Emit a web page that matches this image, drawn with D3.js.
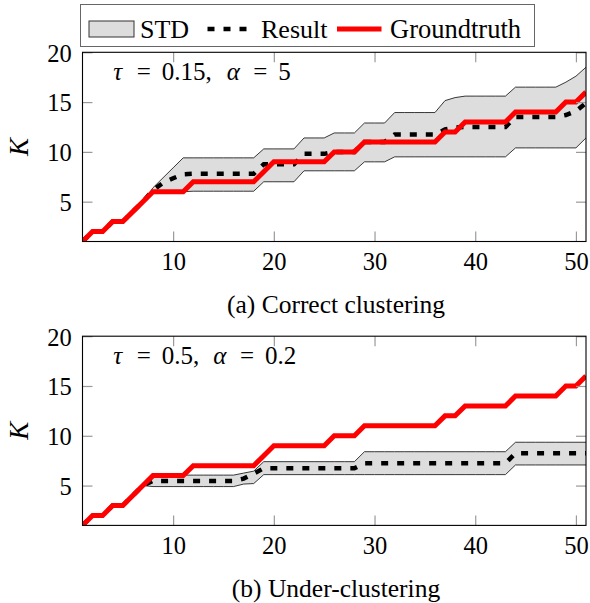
<!DOCTYPE html>
<html><head><meta charset="utf-8">
<script src="https://cdn.jsdelivr.net/npm/d3@7"></script>
<style>
body{margin:0;background:#fff}
svg{display:block}
svg text{font-family:"Liberation Serif","Times New Roman",Times,"DejaVu Serif",serif;fill:#000}
</style>
</head><body>
<svg id="chart" width="590" height="603"></svg>
<script>
const xs = [1,2,3,4,5,6,7,8,9,10,11,12,13,14,15,16,17,18,19,20,21,22,23,24,25,26,27,28,29,30,31,32,33,34,35,36,37,38,39,40,41,42,43,44,45,46,47,48,49,50,51];
const groundtruth = [1,2,2,3,3,4,5,6,6,6,6, 7,7,7,7,7,7,7, 8, 9,9,9,9,9,9, 10,10,10, 11,11,11,11,11,11,11,11, 12,12, 13,13,13,13,13, 14,14,14,14,14, 15,15, 16];

// (a) correct clustering
const resultA = [1,2,2,3,3,4,5, 6.15,6.9,7.35,7.75, 7.8,7.8,7.8,7.8,7.8,7.8,7.8, 8.75,8.75,8.75,8.75, 9.8,9.8,9.8, 10,10,10, 11,11,11, 11.75,11.75,11.75,11.75,11.75, 12.25,12.45, 12.5,12.5,12.5,12.5,12.5, 13.5,13.5,13.5,13.5,13.5, 13.7,14.1,14.9];
const upperA  = [1,2,2,3,3,4,5, 6.4,7.4,8.4, 9.4,9.4,9.4,9.4,9.4,9.4,9.4,9.4, 10.3,10.3,10.3,10.3, 11.4,11.4,11.4, 11.9,11.9,11.9, 12.9,12.9,12.9, 13.95,13.95,13.95,13.95,13.95, 15.15,15.45, 15.6,15.6,15.6,15.6,15.6, 16.5,16.5,16.5,16.5,16.5, 17.0,17.6,18.5];
const lowerA  = [1,2,2,3,3,4,5, 5.95,6.0,6.0,6.0, 6.05,6.05,6.05,6.05,6.05,6.05,6.05, 7,7,7,7, 8.1,8.1,8.1,8.1,8.1,8.1, 9,9,9, 9.5,9.5,9.5,9.5,9.5,9.5,9.5,9.5,9.5,9.5,9.5,9.5, 10.4,10.4,10.4,10.4,10.4,10.4,10.4, 11.4];

// (b) under-clustering
const resultB = [1,2,2,3,3,4,5, 5.47,5.47,5.47,5.47,5.47,5.47,5.47,5.47,5.47, 5.7,6.2, 6.74,6.74,6.74,6.74,6.74,6.74,6.74,6.74,6.74,6.74, 7.24,7.24,7.24,7.24,7.24,7.24,7.24,7.24,7.24,7.24,7.24,7.24,7.24,7.24,7.24, 8.24,8.24,8.24,8.24,8.24,8.24,8.24,8.24];
const upperB  = [1,2,2,3,3,4,5, 6.05,6.05,6.05,6.05,6.05,6.05,6.05,6.05,6.05, 6.25,6.45, 7.4,7.4,7.4,7.4,7.4,7.4,7.4,7.4,7.4,7.4, 8.4,8.4,8.4,8.4,8.4,8.4,8.4,8.4,8.4,8.4,8.4,8.4,8.4,8.4,8.4, 9.35,9.35,9.35,9.35,9.35,9.35,9.35,9.35];
const lowerB  = [1,2,2,3,3,4,5,
  4.9,4.9,4.9,4.9,4.9, 4.9,4.9,4.9,4.9,
  5.15,5.2,
  6.1,6.1,6.1,6.1,6.1, 6.1,6.1,6.1,6.1,6.1, 6.1,6.1,6.1,6.1,6.1, 6.1,6.1,6.1,6.1,6.1, 6.1,6.1,6.1,6.1,6.1,
  7.07,7.07,7.07,7.07, 7.07,7.07,7.07,7.07];

const xTicks = [10,20,30,40,50];
const yTicks = [5,10,15,20];
const legendLabels = ["STD","Result","Groundtruth"];
const panelCaptions = ["(a) Correct clustering","(b) Under-clustering"];
const panelParams = [["0.15","5"],["0.5","0.2"]];

const FONT = "'Liberation Serif','Times New Roman',Times,'DejaVu Serif',serif";
const svg = d3.select("#chart");
const L = 82.5, R = 586, H = 189.2;
const panelTops = [52.3, 336.2];
// horizontal placement of the pieces of "τ = a, α = b" (layout only)
const annoX = [[113.3,136.7,161.7,226.7,253.3,278.3],[113.3,136.7,161.7,213.3,240,265]];
const x = d3.scaleLinear().domain([1,51]).range([L,R]);

const panels = [
  {res: resultA, up: upperA, lo: lowerA},
  {res: resultB, up: upperB, lo: lowerB}
];

panels.forEach((p, i) => {
  const top = panelTops[i], bot = top + H;
  const y = d3.scaleLinear().domain([1,20]).range([bot, top]);
  const g = svg.append("g");
  const cid = "clip" + i;
  svg.append("defs").append("clipPath").attr("id", cid)
    .append("rect").attr("x", L).attr("y", top).attr("width", R-L).attr("height", H);
  const dg = g.append("g").attr("clip-path", `url(#${cid})`);

  const band = xs.map((d, k) => ({x: d, lo: p.lo[k], up: p.up[k]}));
  dg.append("path").datum(band)
    .attr("d", d3.area().x(d => x(d.x)).y0(d => y(d.lo)).y1(d => y(d.up)))
    .attr("fill", "#dddddd").attr("stroke", "none");
  [ "up", "lo" ].forEach(key => {
    dg.append("path").datum(band)
      .attr("d", d3.line().x(d => x(d.x)).y(d => y(d[key])))
      .attr("fill", "none").attr("stroke", "#222").attr("stroke-width", 0.9);
  });
  dg.append("path").datum(xs.map((d,k)=>[d, p.res[k]]))
    .attr("d", d3.line().x(d => x(d[0])).y(d => y(d[1])))
    .attr("fill", "none").attr("stroke", "#000").attr("stroke-width", 4.5)
    .attr("stroke-dasharray", "7,9");
  dg.append("path").datum(xs.map((d,k)=>[d, groundtruth[k]]))
    .attr("d", d3.line().x(d => x(d[0])).y(d => y(d[1])))
    .attr("fill", "none").attr("stroke", "#ff0000").attr("stroke-width", 5);

  // axes
  const ax = g.append("g").attr("transform", `translate(0,${bot})`)
    .call(d3.axisBottom(x).tickValues(xTicks).tickSize(-10).tickPadding(0));
  ax.selectAll("text").attr("y", 28.5).attr("dy", 0);
  g.append("g").attr("transform", `translate(0,${top})`)
    .call(d3.axisTop(x).tickValues(xTicks).tickSize(-10).tickFormat(""));
  const ay = g.append("g").attr("transform", `translate(${L},0)`)
    .call(d3.axisLeft(y).tickValues(yTicks).tickSize(-10).tickPadding(10.8));
  ay.selectAll("text").attr("dy", "0.36em");
  g.append("g").attr("transform", `translate(${R},0)`)
    .call(d3.axisRight(y).tickValues(yTicks).tickSize(-10).tickFormat(""));
  g.selectAll(".domain").remove();
  g.selectAll(".tick line").attr("stroke", "#9a9a9a").attr("stroke-width", 1.2);
  g.selectAll(".tick text").attr("fill", "#000").style("font-family", FONT).style("font-size", "24.5px");

  g.append("rect").attr("x", L).attr("y", top).attr("width", R-L).attr("height", H)
    .attr("fill", "none").attr("stroke", "#000").attr("stroke-width", 1.1);

  // y label
  g.append("text").attr("transform", `translate(28,${(top+bot)/2}) rotate(-90)`)
    .attr("text-anchor", "middle").style("font-family", FONT)
    .style("font-style", "italic").style("font-size", "27px").text("K");

  // annotation
  const pieces = [["τ",true],["=",false],[panelParams[i][0] + ",",false],["α",true],["=",false],[panelParams[i][1],false]];
  const t = g.append("text").attr("y", top + 27.8)
    .style("font-family", FONT).style("font-size", "25px");
  pieces.forEach((pc, k) => {
    t.append("tspan").attr("x", annoX[i][k])
      .style("font-style", pc[1] ? "italic" : "normal").text(pc[0]);
  });

  // caption
  g.append("text").attr("x", 336).attr("y", bot + 71.5).attr("text-anchor", "middle")
    .style("font-family", FONT).style("font-size", "25.5px").text(panelCaptions[i]);
});

// legend
const lg = svg.append("g").style("font-family", FONT);
lg.append("rect").attr("x", 80.5).attr("y", 4.5).attr("width", 454).attr("height", 42)
  .attr("fill", "#fff").attr("stroke", "#666").attr("stroke-width", 1);
lg.append("rect").attr("x", 89).attr("y", 21).attr("width", 45).attr("height", 16)
  .attr("fill", "#dddddd").attr("stroke", "#333").attr("stroke-width", 1);
lg.append("text").attr("x", 140).attr("y", 37.5).style("font-size", "26px").text(legendLabels[0]);
lg.append("line").attr("x1", 207.5).attr("x2", 246.5).attr("y1", 29).attr("y2", 29)
  .attr("stroke", "#000").attr("stroke-width", 4.5).attr("stroke-dasharray", "7,9");
lg.append("text").attr("x", 261).attr("y", 37.5).style("font-size", "26px").text(legendLabels[1]);
lg.append("line").attr("x1", 337).attr("x2", 381.5).attr("y1", 29).attr("y2", 29)
  .attr("stroke", "#ff0000").attr("stroke-width", 5);
lg.append("text").attr("x", 390).attr("y", 37.5).style("font-size", "26.5px").text(legendLabels[2]);
</script>
</body></html>
